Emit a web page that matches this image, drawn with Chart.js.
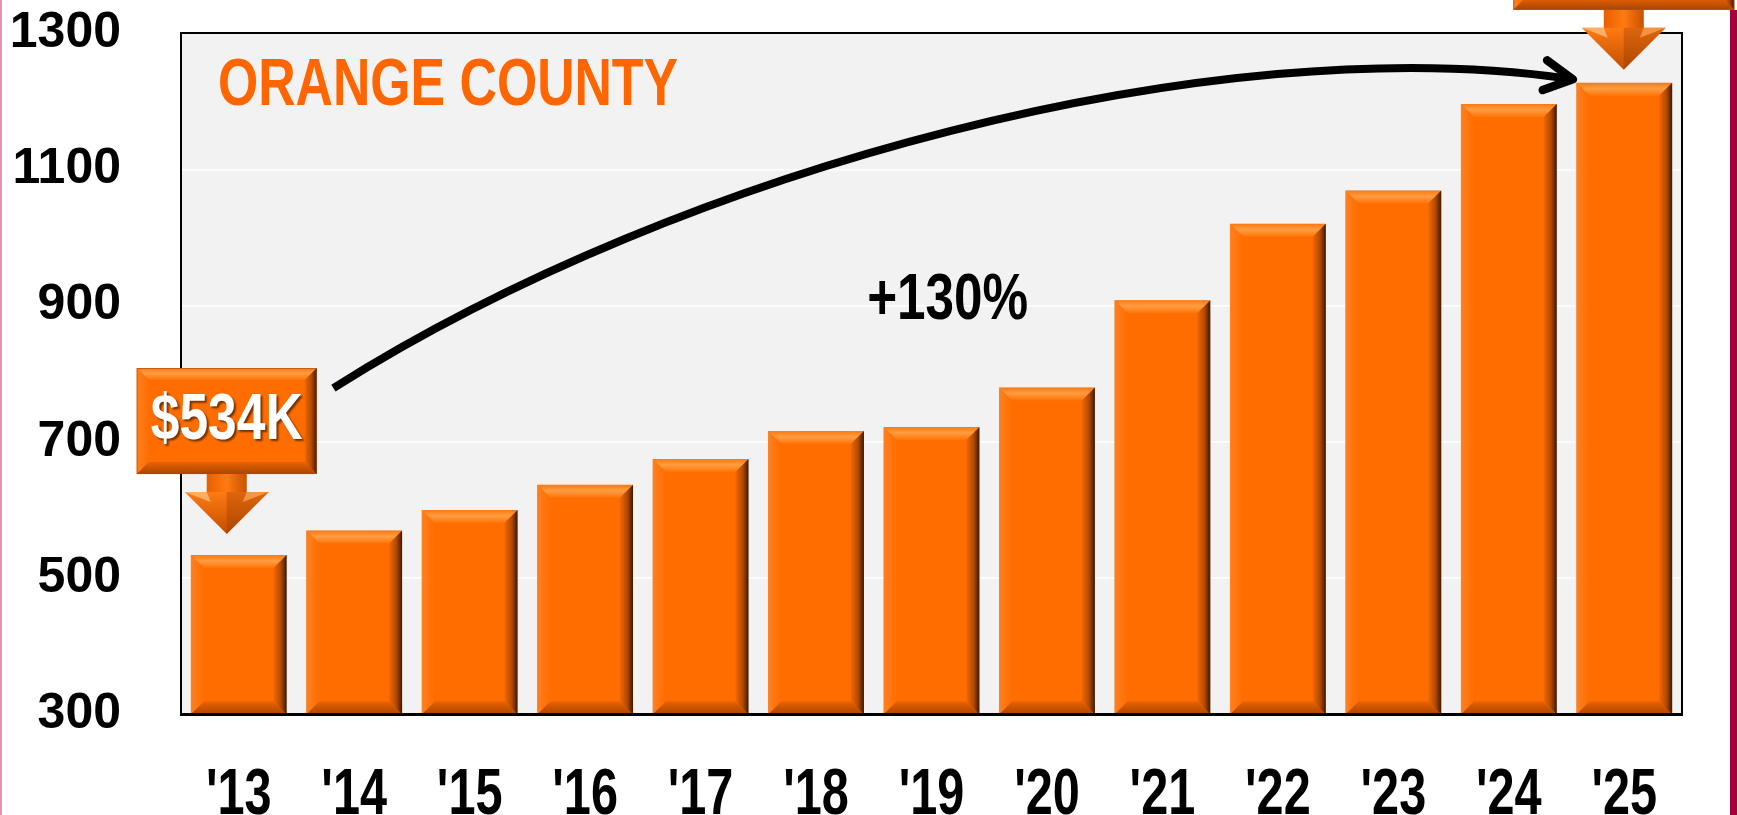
<!DOCTYPE html>
<html>
<head>
<meta charset="utf-8">
<title>Orange County</title>
<script src="https://cdn.jsdelivr.net/npm/chart.js@4.4.0/dist/chart.umd.min.js"></script>
<style>
  html, body { margin: 0; padding: 0; background: #fff; overflow: hidden; }
  #wrap { position: relative; width: 1737px; height: 815px; }
  #edgeL { position: absolute; left: 0; top: 0; width: 2px; height: 815px; background: #e68fb1; }
  #edgeR { position: absolute; left: 1730px; top: 10px; width: 7px; height: 805px; background: #a3003d; }
</style>
</head>
<body>
<div id="wrap">
  <canvas id="chart" width="1737" height="815"></canvas>
  <div id="edgeL"></div>
  <div id="edgeR"></div>
</div>
<script>
// data (median price, $K)
const years = ["'13", "'14", "'15", "'16", "'17", "'18", "'19", "'20", "'21", "'22", "'23", "'24", "'25"];
const medianPrice = [534, 570, 600, 637, 675, 716, 722, 780, 908, 1020, 1069, 1196, 1227];
const yMin = 300;
const yMax = 1300;
const yStep = 200;

const titleText = "ORANGE COUNTY";
const growthText = "+130%";
const startText = "$534K";

const FONT = '"Liberation Sans", Arial, sans-serif';
const ORANGE = '#ff6d00';

function poly(ctx, pts, fill) {
  ctx.beginPath();
  ctx.moveTo(pts[0][0], pts[0][1]);
  for (let i = 1; i < pts.length; i++) ctx.lineTo(pts[i][0], pts[i][1]);
  ctx.closePath();
  ctx.fillStyle = fill;
  ctx.fill();
}

// bevelled look of the bars and boxes
function drawBevel(ctx, L, T, R, B, b) {
  let g = ctx.createLinearGradient(0, T, 0, T + b);
  g.addColorStop(0, '#ff7810');
  g.addColorStop(0.45, '#ff9d42');
  g.addColorStop(1, '#ff7408');
  poly(ctx, [[L, T], [R, T], [R - b, T + b], [L + b, T + b]], g);

  g = ctx.createLinearGradient(L, 0, L + b, 0);
  g.addColorStop(0, '#ff8020');
  g.addColorStop(1, ORANGE);
  poly(ctx, [[L, T], [L + b, T + b], [L + b, B - b], [L, B]], g);

  g = ctx.createLinearGradient(0, B - b, 0, B);
  g.addColorStop(0, '#ea6200');
  g.addColorStop(1, '#a94500');
  poly(ctx, [[L, B], [L + b, B - b], [R - b, B - b], [R, B]], g);

  g = ctx.createLinearGradient(R - b, 0, R, 0);
  g.addColorStop(0, '#f26700');
  g.addColorStop(0.55, '#b24a00');
  g.addColorStop(1, '#3f1800');
  poly(ctx, [[R, T], [R, B], [R - b, B - b], [R - b, T + b]], g);
}

// condensed bold text: width given directly, or via a horizontal squeeze factor
function narrowText(ctx, str, x, y, size, width, color, align, shadow) {
  ctx.save();
  ctx.font = 'bold ' + size + 'px ' + FONT;
  const w = ctx.measureText(str).width;
  const sx = width > 1 ? width / w : width;
  ctx.translate(x, y);
  ctx.scale(sx, 1);
  ctx.textAlign = align;
  ctx.textBaseline = 'alphabetic';
  if (shadow) {
    ctx.shadowColor = 'rgba(0,0,0,0.55)';
    ctx.shadowOffsetX = 2;
    ctx.shadowOffsetY = 2;
    ctx.shadowBlur = 2;
  }
  ctx.fillStyle = color;
  ctx.fillText(str, 0, 0);
  ctx.restore();
}

// box + down arrow callout, arrow tip at (cx, tipY)
function drawCallout(ctx, cx, tipY, boxW, boxH, text) {
  const headH = 42, headW = 84, stemH = 18, stemW = 40;
  const headTop = tipY - headH;
  const boxBottom = headTop - stemH;
  const L = cx - boxW / 2, R = cx + boxW / 2, T = boxBottom - boxH;

  ctx.save();
  let g = ctx.createLinearGradient(cx - stemW / 2, 0, cx + stemW / 2, 0);
  g.addColorStop(0, '#e85f00');
  g.addColorStop(0.5, '#ff7a12');
  g.addColorStop(1, '#c85200');
  ctx.fillStyle = g;
  ctx.fillRect(cx - stemW / 2, boxBottom - 1, stemW, stemH + 2);

  g = ctx.createLinearGradient(0, headTop, 0, tipY);
  g.addColorStop(0, '#ff7a12');
  g.addColorStop(1, '#c24f00');
  poly(ctx, [[cx - headW / 2, headTop], [cx + headW / 2, headTop], [cx, tipY]], g);
  poly(ctx, [[cx, headTop], [cx + headW / 2, headTop], [cx, tipY]], 'rgba(120,40,0,0.25)');
  poly(ctx, [[cx - headW / 2, headTop], [cx - stemW / 2, headTop], [cx - stemW / 2 + 4, headTop + 10]], 'rgba(255,190,120,0.8)');
  poly(ctx, [[cx + headW / 2, headTop], [cx + stemW / 2, headTop], [cx + stemW / 2 - 4, headTop + 10]], 'rgba(255,170,90,0.7)');

  ctx.fillStyle = ORANGE;
  ctx.fillRect(L, T, boxW, boxH);
  drawBevel(ctx, L, T, R, boxBottom, 12);
  ctx.strokeStyle = 'rgba(150,80,40,0.6)';
  ctx.lineWidth = 1;
  ctx.strokeRect(L + 0.5, T + 0.5, boxW - 1, boxH - 1);
  ctx.restore();

  if (text) narrowText(ctx, text, cx, boxBottom - 35, 64, 152, '#ffffff', 'center', true);
}

const overlayPlugin = {
  id: 'overlay',
  beforeDraw(chart) {
    const { ctx, chartArea: a } = chart;
    ctx.save();
    ctx.fillStyle = '#f2f2f2';
    ctx.fillRect(a.left, a.top, a.right - a.left, a.bottom - a.top);
    ctx.restore();
  },
  afterDatasetsDraw(chart) {
    const { ctx, chartArea: a } = chart;
    const xs = chart.scales.x, ys = chart.scales.y;
    const px = (i, v) => [xs.getPixelForValue(i), ys.getPixelForValue(v)];
    const bars = chart.getDatasetMeta(0).data;

    ctx.save();
    bars.forEach(bar => {
      const L = bar.x - bar.width / 2, R = bar.x + bar.width / 2;
      drawBevel(ctx, L, bar.y, R, Math.min(bar.base, a.bottom), 13);
    });

    // plot frame
    ctx.strokeStyle = '#000';
    ctx.lineWidth = 2;
    ctx.strokeRect(a.left, a.top, a.right - a.left, a.bottom - a.top);
    ctx.lineWidth = 3;
    ctx.beginPath();
    ctx.moveTo(a.left - 1, a.bottom);
    ctx.lineTo(a.right + 1, a.bottom);
    ctx.stroke();
    ctx.restore();

    narrowText(ctx, titleText, a.left + 37, a.top + 72, 66, 460, '#ff6600', 'left', false);

    // category labels under the axis, condensed like the original
    xs.ticks.forEach((t, i) => {
      narrowText(ctx, chart.data.labels[i], xs.getPixelForTick(i), a.bottom + 99, 64, 0.76, '#000', 'center', false);
    });

    // growth arrow (in data coordinates)
    const p0 = px(0.82, 779), c1 = px(3.85, 1104), c2 = px(8.48, 1309), p3 = px(11.555, 1232);
    ctx.save();
    ctx.strokeStyle = '#000';
    ctx.lineWidth = 8;
    ctx.lineCap = 'butt';
    ctx.beginPath();
    ctx.moveTo(p0[0], p0[1]);
    ctx.bezierCurveTo(c1[0], c1[1], c2[0], c2[1], p3[0] - 3, p3[1] - 0.5);
    ctx.stroke();
    const ang = Math.atan2(p3[1] - c2[1], p3[0] - c2[0]);
    const len = 32, spread = 28 * Math.PI / 180;
    ctx.lineWidth = 8.5;
    ctx.lineCap = 'round';
    ctx.lineJoin = 'round';
    ctx.beginPath();
    ctx.moveTo(p3[0] - len * Math.cos(ang - spread), p3[1] - len * Math.sin(ang - spread));
    ctx.lineTo(p3[0], p3[1]);
    ctx.lineTo(p3[0] - len * Math.cos(ang + spread), p3[1] - len * Math.sin(ang + spread));
    ctx.stroke();
    ctx.restore();

    const g = px(6.14, 880);
    narrowText(ctx, growthText, g[0], g[1], 64, 161, '#000', 'center', false);

    const first = bars[0], last = bars[bars.length - 1];
    drawCallout(ctx, first.x - 12, first.y - 21, 180, 106, startText);
    drawCallout(ctx, last.x - 0.5, last.y - 13, 221, 106, null);
  }
};

new Chart(document.getElementById('chart'), {
  type: 'bar',
  data: {
    labels: years,
    datasets: [{
      data: medianPrice,
      backgroundColor: ORANGE,
      borderColor: 'rgba(130,110,100,0.7)',
      borderWidth: 1,
      borderSkipped: false,
      categoryPercentage: 1,
      barPercentage: 0.83
    }]
  },
  options: {
    responsive: false,
    animation: false,
    layout: { padding: { top: 33, right: 55, left: 0, bottom: 0 } },
    plugins: { legend: { display: false }, tooltip: { enabled: false } },
    scales: {
      x: {
        grid: { display: false, drawTicks: false },
        border: { display: false },
        ticks: { display: false },
        afterFit(scale) { scale.height = 100.5; }
      },
      y: {
        min: yMin,
        max: yMax,
        grid: { color: '#ffffff', lineWidth: 1.5, drawTicks: false },
        border: { display: false },
        ticks: {
          stepSize: yStep,
          color: '#000',
          padding: 60,
          font: { family: FONT, size: 50, weight: 'bold' },
          callback: v => String(v)
        },
        afterFit(scale) {
          scale.width = 181;
          scale.paddingTop = 0;
          scale.paddingBottom = 0;
        }
      }
    }
  },
  plugins: [overlayPlugin]
});
</script>
</body>
</html>
